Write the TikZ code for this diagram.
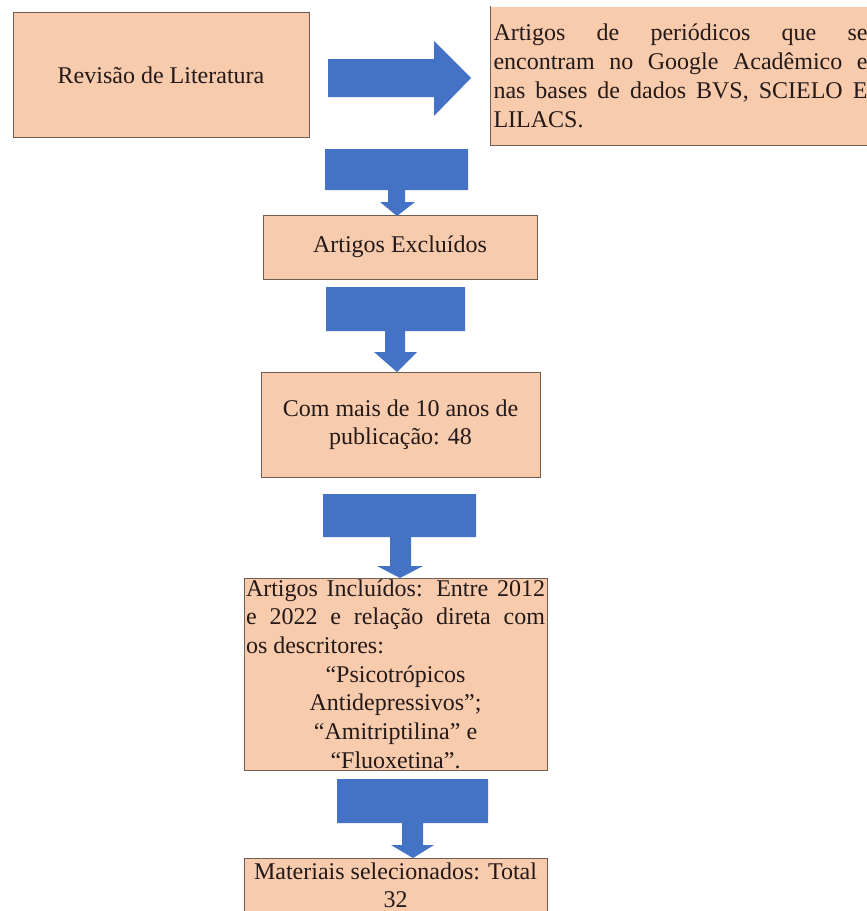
\documentclass[tikz,border=0pt]{standalone}
\usepackage{fontspec}
\setmainfont{Liberation Serif}
\definecolor{pessego}{HTML}{F8CBAD}
\definecolor{azul}{HTML}{4472C4}
\definecolor{borda}{RGB}{110,95,85}
\definecolor{texto}{RGB}{35,25,25}
\tikzset{
  caixa/.style={fill=pessego,draw=borda,line width=1pt,text=texto,inner sep=0pt,
    font=\fontsize{24}{28}\selectfont},
  seta/.style={fill=azul}
}
\begin{document}
\begin{tikzpicture}[x=1pt,y=-1pt]
	\useasboundingbox (0,0) rectangle (867,911);
	\clip (0,0) rectangle (867,911);
	
	\node[caixa,minimum width=296,minimum height=125] (rev) at (161,75) {Revisão de Literatura};
	
	\node[caixa,draw=none,anchor=north west,text width=374,align=justify,inner xsep=3,
	minimum height=138,font=\fontsize{24}{29}\selectfont] (bases) at (490,6)
	{Artigos de periódicos que se\linebreak encontram no Google Acadêmico e\linebreak nas bases de dados BVS, SCIELO E\linebreak LILACS.};
	\draw[borda,line width=1pt] (bases.north west)--(bases.south west)--(bases.south east);
	
	\node[caixa,minimum width=274,minimum height=64] (excl) at (400,247) {Artigos Excluídos};
	
	\node[caixa,minimum width=279,minimum height=105,align=center] (dez) at (400.5,424.5)
	{Com mais de 10 anos de\\ publicação: 48};
	
	\node[caixa,minimum width=303,minimum height=192,text width=299,inner xsep=2,align=justify,
	font=\fontsize{24}{28.7}\selectfont] (incl) at (395.5,674)
	{Artigos Incluídos: Entre 2012\linebreak e 2022 e relação direta com\linebreak os descritores:\par
	{\centering “Psicotrópicos\\ Antidepressivos”;\\ “Amitriptilina” e\\ “Fluoxetina”.\par}};
	
	\node[caixa,minimum width=303,minimum height=54,anchor=north,align=center,
	font=\fontsize{24}{28}\selectfont] (mat) at (395.5,858)
	{Materiais selecionados: Total\\ 32};
	
	% setas
	\fill[seta] (328,59)--(434,59)--(434,41)--(471,78)--(434,116)--(434,97)--(328,97)--cycle;
	\foreach \xa/\xb/\ya/\yb/\na/\nb/\yc/\ha/\hb/\tx/\ty in
	{325/468/149/190/388/405/202/380/415/397/216,
	 326/465/287/331/385/405/352/374/417/397/372,
	 323/476/494/537/390/411/566/377/423/400/578,
	 337/488/779/823/402/423/845/391/434/413/858}{
		\fill[seta] (\xa,\ya)--(\xb,\ya)--(\xb,\yb)--(\nb,\yb)--(\nb,\yc)--(\hb,\yc)--(\tx,\ty)
		--(\ha,\yc)--(\na,\yc)--(\na,\yb)--(\xa,\yb)--cycle;
	}
\end{tikzpicture}
\end{document}
